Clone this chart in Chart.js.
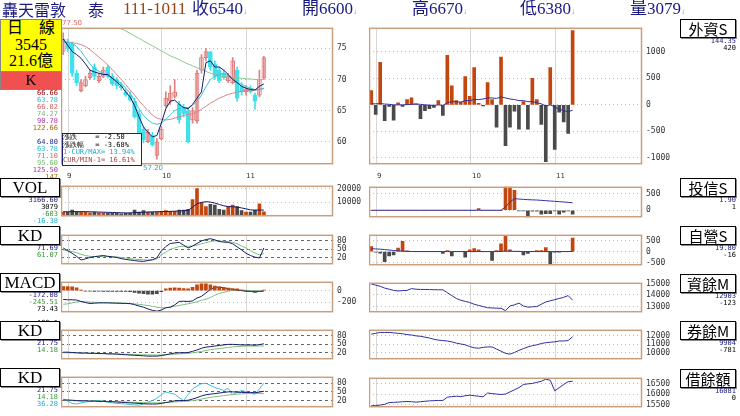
<!DOCTYPE html>
<html><head><meta charset="utf-8">
<script src="https://cdn.jsdelivr.net/npm/chart.js@4/dist/chart.umd.min.js"></script>
<style>
body{margin:0;width:740px;height:416px;background:#fff;position:relative;overflow:hidden;font-family:"Liberation Serif","Noto Sans CJK TC",serif}
canvas{position:absolute}
.t{position:absolute;white-space:nowrap}
.h{position:absolute;white-space:nowrap;top:0px;font-size:17px;line-height:18px;color:#1a1a80}
.box{position:absolute;border:1px solid #000;background:#fff;text-align:center;font-family:"Liberation Serif","Noto Sans CJK TC";font-size:17px;line-height:17px;box-shadow:1px 1px 0 #888}
.sm{position:absolute;font:7px "DejaVu Sans Mono";text-align:right;line-height:7px}
</style></head><body>
<script>
// ---------- DATA ----------
const slotCount = 61;
const monthStarts = [1, 22, 41];
const monthNames = ['9','10','11'];
const open  = [74.5,76,75.7,71,68.2,69,70.3,72,69.8,70.5,72,70.5,70,69,68,67.5,66.5,64.5,62,60,61,57.8,60.5,65.8,66.5,67.3,66,65.5,65,63.5,63.4,71.5,73.5,74.5,72.5,71.5,71,69.8,69.5,71.5,69,68,68.5,67.5,67.5,70.2];
const close = [76.5,75,71,69.5,69.5,70,71,70.5,70.5,71.5,70.5,69.3,69,68.7,67.5,66.7,64,59.8,60.3,61.5,59.5,60,62,67,67.8,68,63.5,64.5,60,65,71,73.5,74.5,72,70.5,69.8,70.3,70.5,73,67,68,68.5,68,66.5,70,73.5];
const high  = [77.5,76.5,76,71.5,70,70.5,71.5,72.5,71,72,72.3,71,70.3,69.5,68.5,68,67,65,62.5,62,61.5,60.5,62.5,68,69,70,66.5,66,65.5,65.5,71.5,74,75,74.5,73,72,71.5,71,73.5,72,69.5,69,69,67.8,71.5,73.7];
const low   = [74,74.5,70.5,69,68,68.8,70,70,69.5,70.3,70.2,69,68.5,68.3,67.3,66.5,63.8,59.5,59.8,59.8,59.3,57.2,60.3,65.5,66,67,63,64,59.8,63,63,71,73,71.5,70,69.5,70,69.5,69.3,66.5,67.5,67.5,67.8,65.2,67.2,70];
const ma5   = [76.5,75.5,74.5,74,73.4,72.5,71.5,71.2,71,70.8,70.8,70.2,69.6,69,68,67.2,65.8,64,62.4,61.5,60.8,61,63,65.3,66.5,66.7,66,65.5,65.3,66,67,68,72.7,73,72,72,71.5,70.8,70,69.5,68.9,68.6,68.4,68.3,68.9,69.3];
const ma10  = [76,76,75.8,75.3,74.5,73.5,72.5,71.8,71.3,71,70.6,70.2,69.8,69.4,68.6,67.8,66.6,65.3,64.2,63.5,63,62.8,63,63.6,64.3,65,65.3,65.5,65.5,65.8,66.5,67.5,68.8,70,70.5,70.8,71,70.6,70.2,69.6,69.2,68.9,68.6,68.4,68.4,68.6];
const ma20  = [76,76,75.9,75.8,75.6,75.3,74.8,74.2,73.6,73,72.3,71.6,70.8,70,69.2,68.3,67.5,66.6,65.8,65,64.3,63.8,63.6,63.5,63.6,63.8,64,64.2,64.4,64.5,64.8,65.2,65.7,66.2,66.6,67,67.3,67.6,67.8,68,68.1,68.2,68.3,68.3,68.4,68.5];
const ma60  = [83,82.6,82.2,81.8,81.4,81,80.6,80.2,79.8,79.4,79,78.7,78.4,78.1,77.8,77.4,77,76.6,76.2,75.8,75.4,75,74.6,74.2,73.8,73.5,73.2,72.8,72.5,72.2,71.9,71.6,71.3,71,70.8,70.6,70.5,70.4,70.3,70.2,70.2,70.1,70.1,70,70,70];
const vol   = [3000,3000,4500,3500,3000,3000,2500,3000,2500,2500,2000,2000,2000,1800,2000,2000,4500,3000,4000,3000,3000,3200,3500,4000,3500,3500,4500,4500,5000,12000,20000,10000,7000,8500,8000,5000,4500,7000,8000,7000,4000,3000,3000,4500,9000,3079];
const volMa = [3200,3200,3300,3300,3300,3300,3200,3100,3000,2900,2800,2700,2600,2500,2400,2400,2600,2700,2900,3000,3100,3200,3300,3400,3500,3600,3800,4000,4200,6500,9000,10000,10500,10200,9500,8500,7500,7000,6800,6600,6000,5300,4600,4300,4500,4400];
const kdK1  = [55,45,36,25,12,16,21,24,26,28,25,23,21,17,14,12,10,8,7,10,13,20,44,60,71,73,75,65,55,62,71,80,85,88,84,78,76,75,70,59,48,36,28,22,19,55];
const kdD1  = [48,45,42,38,32,28,25,24,24,25,25,24,23,21,19,17,15,14,13,12,12,16,30,40,50,55,60,61,61,62,65,70,74,78,80,80,79,78,75,70,62,55,45,37,30,35];
const macdH = [70,70,65,50,5,-10,-10,-12,-10,-12,-12,-14,-15,-15,-15,-18,-30,-45,-55,-60,-60,-55,-20,30,45,50,45,35,30,60,100,120,120,100,80,65,55,45,35,30,10,-10,-20,-30,-15,10];
const dif   = [-155,-160,-160,-165,-190,-210,-225,-220,-215,-215,-215,-218,-220,-222,-225,-228,-245,-270,-290,-320,-345,-360,-340,-300,-290,-250,-190,-185,-190,-180,-130,-100,-40,20,60,60,50,35,20,10,0,-10,-15,-20,-15,-5];
const dea   = [-240,-230,-215,-200,-190,-195,-200,-203,-206,-208,-210,-212,-215,-218,-222,-226,-232,-240,-250,-262,-275,-290,-300,-300,-290,-275,-260,-245,-230,-215,-195,-170,-150,-120,-80,-50,-30,-10,5,10,10,5,0,-5,-5,-5];
const kdK2  = [22,22,21,20,19,19,18,18,17,17,16,16,15,14,13,12,11,10,9,8,8,8,10,13,16,19,20,20,21,25,30,36,40,42,44,46,48,50,50,49,48,48,48,47,49,52];
const kdD2  = [20,20,20,19,19,19,18,18,18,17,17,16,16,15,15,14,14,13,13,12,12,12,12,13,14,15,16,17,18,20,22,25,28,31,33,35,37,39,41,42,43,44,44,44,44,44];
const kdJ3  = [25,18,10,8,12,15,17,20,20,18,15,12,10,9,8,6,5,4,8,15,20,28,40,50,45,42,30,20,40,60,70,78,80,72,65,60,55,62,40,48,55,50,45,42,60,80];
const foreign = [270,-180,800,-300,-30,-290,40,-30,100,130,20,-260,-110,-70,-50,80,-200,930,360,80,50,530,160,700,30,-20,420,100,-420,900,-770,-420,-120,-460,60,-460,500,100,-370,-1070,700,-840,-140,-320,-540,1400];
const foreignMa = [20,20,25,15,10,0,0,0,5,10,15,10,0,-5,-10,0,-10,40,60,60,50,80,80,100,100,110,130,130,120,150,130,110,100,80,80,60,60,40,20,-20,0,-40,-80,-110,-130,-100];
const trust = [0,0,0,0,0,0,0,0,0,0,0,0,0,0,0,0,0,0,0,0,0,0,0,0,50,0,0,0,0,0,900,900,600,-20,-20,-250,-30,-30,-120,-100,-100,-20,-120,-60,-20,-120];
const trustMa = [0,0,0,0,0,0,0,0,0,0,0,0,0,0,0,0,0,0,0,0,0,0,0,0,0,0,0,0,0,0,100,250,350,340,330,320,315,310,300,290,280,270,260,250,240,225];
const dealer = [230,-30,-70,-450,-200,-150,160,460,30,0,0,0,0,0,0,0,-80,40,-200,0,0,-250,80,130,80,0,0,-400,40,350,730,80,0,0,-150,-80,0,40,40,180,-550,-30,-30,0,0,610];
const dealerMa = [130,120,110,90,70,50,30,20,10,5,0,0,0,0,0,0,0,0,0,0,0,0,0,0,0,0,0,0,0,10,20,20,10,10,0,0,0,0,0,0,0,0,0,0,0,10];
const margin = [14950,14850,14750,14600,14500,14400,14350,14380,14400,14550,14500,14480,14480,14470,14460,14450,14450,14200,13950,13700,13550,13450,13350,13200,13100,13000,12900,12880,12860,12850,12650,13050,13150,13300,13050,12950,12980,13000,13200,13400,13500,13600,13700,13800,13950,13550];
const shortBal = [12200,12300,12400,12400,12400,12350,12300,12250,12150,12100,12000,11950,11850,11750,11600,11500,11450,11400,11300,11150,11050,10950,10750,10600,10550,10650,10700,10700,10450,10200,9950,9850,10050,10300,10500,10700,10850,10950,11100,11200,11250,11300,11400,11400,11450,11900];
const borrow = [15450,15460,15480,15520,15600,15610,15620,15640,15650,15640,15620,15640,15660,15680,15690,15700,15700,15850,15880,15900,15880,15920,15950,15920,15900,15870,16050,16020,16000,15980,16000,16100,16200,16300,16450,16480,16500,16550,16600,16700,16650,16150,16300,16450,16580,16600];

// ---------- helpers ----------
const slots = Array.from({length: slotCount}, () => '');
const UP='#c4460f', DN='#4a4a4a';
const pad = a => a.concat(Array(slotCount - a.length).fill(null));
const sign = a => a.map(v => v >= 0 ? UP : DN);

const framePlugin = {
  id:'frame',
  beforeDatasetsDraw(c){
    const {ctx, chartArea:ca} = c, xs = c.scales.x;
    ctx.save(); ctx.strokeStyle='#d6d6d6'; ctx.lineWidth=1;
    monthStarts.forEach(i=>{const x=Math.round(xs.getPixelForValue(i))+.5; ctx.beginPath(); ctx.moveTo(x,ca.top); ctx.lineTo(x,ca.bottom); ctx.stroke();});
    ctx.restore();
  },
  afterDraw(c){
    const {ctx, chartArea:ca} = c;
    ctx.save(); ctx.strokeStyle='#c8a080'; ctx.lineWidth=1.5;
    ctx.strokeRect(ca.left+.5, ca.top+.5, ca.right-ca.left-1, ca.bottom-ca.top-1); ctx.restore();
  }
};

function panel(left, top, w, h, datasets, ymin, ymax, ticks, dash){
  const cv = document.createElement('canvas');
  cv.width = w + 48; cv.height = h;
  cv.style.left = left + 'px'; cv.style.top = top + 'px';
  document.body.appendChild(cv);
  new Chart(cv, {
    data:{labels:slots, datasets},
    plugins:[framePlugin],
    options:{
      responsive:false, animation:false, events:[],
      layout:{padding:0},
      plugins:{legend:{display:false}, tooltip:{enabled:false}},
      scales:{
        x:{display:true, offset:true, ticks:{display:false}, grid:{display:false, drawTicks:false}, border:{display:false}},
        y:{position:'right', min:ymin, max:ymax,
           afterFit:s=>{s.width=48;},
           afterBuildTicks:s=>{s.ticks = ticks.map(v=>({value:v}));},
           border:{display:false, dash: dash ? [3,3] : [1,3]},
           grid:{color: dash ? '#666' : '#bbbbbb', drawTicks:false},
           ticks:{padding:4, color:'#333', font:{family:'DejaVu Sans Mono', size:8}, callback:v=>String(v)}}
      },
      datasets:{bar:{grouped:false, categoryPercentage:1, barPercentage:1}},
      elements:{point:{radius:0}, line:{borderWidth:1, tension:0}}
    }
  });
}
const line = (d,c) => ({type:'line', data:pad(d), borderColor:c, borderWidth:1, pointRadius:0, spanGaps:false});
const bars = (d, colors, th=3) => ({type:'bar', data:pad(d), backgroundColor:colors, barThickness:th});

// ---------- K panel ----------
const upC = close.map((c,i)=>c>=open[i]);
panel(61, 19, 272, 154, [
  line(ma5,'#1a1a6a'), line(ma10,'#40c0d8'), line(ma20,'#d08888'), line(ma60,'#8cc88c'),
  {type:'bar', data:pad(low.map((l,i)=>[l,high[i]])), backgroundColor:upC.map(u=>u?'#e08080':'#40e0ea'), barThickness:1},
  {type:'bar', data:pad(open.map((o,i)=>[o,close[i]])), backgroundColor:upC.map(u=>u?'#ffffff':'#40e0ea'), borderColor:upC.map(u=>u?'#e07878':'#40e0ea'), borderWidth:1, borderSkipped:false, barThickness:4}
], 56.4, 78.3, [60,65,70,75]);

panel(61, 177, 272, 48, [line(volMa,'#1a1a6a'), bars(vol, close.map((c,i)=>c>=open[i]?UP:DN))], 0, 22000, [10000,20000]);
panel(61, 226, 272, 47, [line(kdK1,'#1a1a6a'), line(kdD1,'#7cc07c')], -3, 102, [20,50,80], true);
panel(61, 273, 272, 48, [bars(macdH, sign(macdH)), line(dif,'#1a1a6a'), line(dea,'#7cc07c')], -378, 155, [-200,0]);
panel(61, 321, 272, 47, [line(kdK2,'#1a1a6a'), line(kdD2,'#7cc07c')], -3, 102, [20,50,80], true);
panel(61, 368, 272, 48, [line(kdK2,'#1a1a6a'), line(kdD2,'#7cc07c'), line(kdJ3,'#40c0d8')], -3, 102, [20,50,80], true);

// ---------- right panels ----------
panel(369, 19, 273, 154, [line(foreignMa,'#3030a0'), bars(foreign, sign(foreign))], -1117, 1450, [-1000,-500,0,500,1000]);
panel(369, 178, 273, 48, [line(trustMa,'#3030a0'), bars(trust, sign(trust))], -210, 710, [0,500]);
panel(369, 226, 273, 48, [line(dealerMa,'#3030a0'), bars(dealer, sign(dealer))], -614, 757, [-500,0,500]);
panel(369, 274, 273, 47, [line(margin,'#3030a0')], 12514, 15054, [13000,14000,15000]);
panel(369, 321, 273, 47, [line(shortBal,'#3030a0')], 9260, 12714, [10000,11000,12000]);
panel(369, 369, 273, 47, [line(borrow,'#3030a0')], 15382, 16765, [15500,16000,16500]);

[[61,172],[369,172]].forEach(([L,T])=>{
  const xs=[6,101,185];
  monthNames.forEach((m,i)=>{const d=document.createElement('div');d.className='t';d.style.cssText=`left:${L+xs[i]+(L==369?2:0)}px;top:${T}px;font:7px DejaVu Sans;color:#333`;d.textContent=m;document.body.appendChild(d);});
});
</script>

<!-- header -->
<div class="h" style="left:2px;font-family:'Noto Sans CJK TC';font-size:16px">轟天雷敦</div>
<div class="h" style="left:88px;font-family:'Noto Sans CJK TC';font-size:16px">泰</div>
<div class="h" style="left:123px;color:#9a4010">111-1011</div>
<div class="h" style="left:192px">收6540<span style="font-size:8px;color:#4ac">↓</span></div>
<div class="h" style="left:302px">開6600<span style="font-size:8px;color:#4ac">↓</span></div>
<div class="h" style="left:412px">高6670<span style="font-size:8px;color:#4ac">↓</span></div>
<div class="h" style="left:520px">低6380<span style="font-size:8px;color:#4ac">↓</span></div>
<div class="h" style="left:630px">量3079<span style="font-size:8px;color:#4ac">↓</span></div>

<div class="t" style="left:0;top:19px;width:60px;height:51px;background:#ffff00;border:1px solid #888;font-size:16px;line-height:16.5px;text-align:center;color:#000">日　線<br>3545<br>21.6億</div>
<div class="t" style="left:0;top:71px;width:60px;height:17px;background:#f05050;border:1px solid #888;font-size:15px;line-height:17px;text-align:center">K</div>
<div class="sm" style="left:0;top:90px;width:58px">
<span style="color:#800">66.66</span><br><span style="color:#2bc">63.78</span><br><span style="color:#c66">66.02</span><br><span style="color:#7b7">74.27</span><br><span style="color:#a3a">90.78</span><br><span style="color:#a60">122.66</span><br><br>
<span style="color:#228">64.80</span><br><span style="color:#2bc">63.78</span><br><span style="color:#c66">71.10</span><br><span style="color:#7b7">95.60</span><br><span style="color:#a3a">125.50</span><br><span style="color:#a60">147</span></div>
<div class="t" style="left:62px;top:133px;width:78px;height:31px;border:1px solid #226;background:#fff;font:7px 'DejaVu Sans Mono';line-height:7.5px;color:#000">漲跌　　 = -2.50<br>漲跌幅　 = -3.68%<br><span style="color:#2ac">1-CUR/MAX= 13.94%</span><br><span style="color:#a44">CUR/MIN-1= 16.61%</span></div>
<div class="t" style="left:62px;top:19px;font:7px 'DejaVu Sans';color:#d66">77.50</div>
<div class="t" style="left:143px;top:164px;font:7px 'DejaVu Sans';color:#2ac">57.20</div>

<div class="box" style="left:0;top:178px;width:58px">VOL</div>
<div class="sm" style="left:0;top:197px;width:58px"><span style="color:#228">3166.60</span><br>3079<br><span style="color:#393">-603</span><br><span style="color:#2ac">-16.38</span></div>
<div class="box" style="left:0;top:226px;width:58px">KD</div>
<div class="sm" style="left:0;top:245px;width:58px"><span style="color:#228">71.69</span><br><span style="color:#393">61.07</span></div>
<div class="box" style="left:0;top:273px;width:58px">MACD</div>
<div class="sm" style="left:0;top:292px;width:58px"><span style="color:#228">-172.08</span><br><span style="color:#393">-245.51</span><br>73.43<br><br>100:1</div>
<div class="box" style="left:0;top:321px;width:58px">KD</div>
<div class="sm" style="left:0;top:340px;width:58px"><span style="color:#228">21.75</span><br><span style="color:#393">14.18</span></div>
<div class="box" style="left:0;top:368px;width:58px">KD</div>
<div class="sm" style="left:0;top:387px;width:58px"><span style="color:#228">21.75</span><br><span style="color:#393">14.18</span><br><span style="color:#2ac">36.28</span></div>

<div class="box" style="left:680px;top:19px;width:54px;font-family:'Noto Sans CJK TC';font-size:15px">外資S</div>
<div class="sm" style="left:680px;top:38px;width:56px"><span style="color:#228">144.35</span><br>420</div>
<div class="box" style="left:680px;top:178px;width:54px;font-family:'Noto Sans CJK TC';font-size:15px">投信S</div>
<div class="sm" style="left:680px;top:197px;width:56px"><span style="color:#228">1.90</span><br>1</div>
<div class="box" style="left:680px;top:226px;width:54px;font-family:'Noto Sans CJK TC';font-size:15px">自營S</div>
<div class="sm" style="left:680px;top:245px;width:56px"><span style="color:#228">19.80</span><br>-16</div>
<div class="box" style="left:680px;top:274px;width:54px;font-family:'Noto Sans CJK TC';font-size:15px">資餘M</div>
<div class="sm" style="left:680px;top:293px;width:56px"><span style="color:#228">12903</span><br>-123</div>
<div class="box" style="left:680px;top:321px;width:54px;font-family:'Noto Sans CJK TC';font-size:15px">券餘M</div>
<div class="sm" style="left:680px;top:340px;width:56px"><span style="color:#228">9904</span><br>-781</div>
<div class="box" style="left:680px;top:369px;width:54px;font-family:'Noto Sans CJK TC';font-size:15px">借餘額</div>
<div class="sm" style="left:680px;top:388px;width:56px"><span style="color:#228">16081</span><br>0</div>
</body></html>
